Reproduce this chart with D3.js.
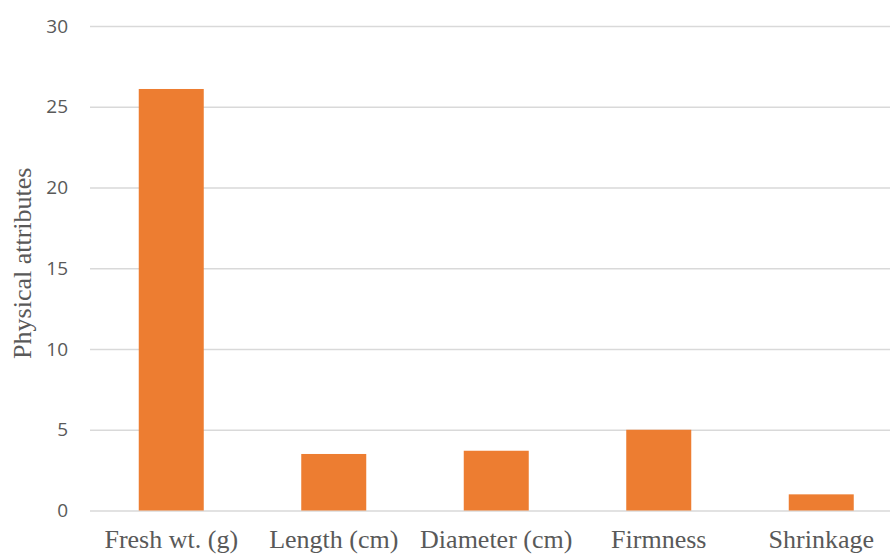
<!DOCTYPE html>
<html>
<head>
<meta charset="utf-8">
<script src="https://cdn.jsdelivr.net/npm/d3@7"></script>
<style>
  html, body { margin: 0; padding: 0; background: #fff; }
  svg { display: block; }
</style>
</head>
<body>
<svg id="chart" width="890" height="554"></svg>
<script>
// Physical attributes of the fruit
const categories = ["Fresh wt. (g)", "Length (cm)", "Diameter (cm)", "Firmness", "Shrinkage"];
const values = [26.1, 3.5, 3.7, 5.0, 1.0];
const yTicks = [0, 5, 10, 15, 20, 25, 30];
const yTitle = "Physical attributes";

const svg = d3.select("#chart");
const W = 890, H = 554;
const margin = { left: 90, right: -12.5, top: 26, bottom: 43.5 };

const x = d3.scaleBand()
  .domain(categories)
  .range([margin.left, W - margin.right])
  .paddingInner(0.6)
  .paddingOuter(0.3);

const y = d3.scaleLinear()
  .domain([0, 30])
  .range([H - margin.bottom, margin.top]);

// horizontal gridlines with value labels
const yAxis = d3.axisLeft(y)
  .tickValues(yTicks)
  .tickSize(-(W - margin.left))
  .tickPadding(22)
  .tickFormat(d3.format("d"));

const gy = svg.append("g")
  .attr("transform", `translate(${margin.left},0)`)
  .call(yAxis);
gy.select(".domain").remove();
gy.selectAll(".tick line")
  .attr("stroke", "#d9d9d9")
  .attr("stroke-width", 1.3);
gy.selectAll(".tick text")
  .attr("fill", "#595959")
  .style("font-family", "'Open Sans', 'Liberation Sans', sans-serif")
  .style("font-size", "19px");

// bars
svg.append("g")
  .selectAll("rect")
  .data(values)
  .join("rect")
  .attr("x", (d, i) => x(categories[i]))
  .attr("width", x.bandwidth())
  .attr("y", d => y(d))
  .attr("height", d => y(0) - y(d))
  .attr("fill", "#ed7d31");

// category labels
const xAxis = d3.axisBottom(x).tickSize(0).tickPadding(19);
const gx = svg.append("g")
  .attr("transform", `translate(0,${y(0)})`)
  .call(xAxis);
gx.select(".domain").remove();
gx.selectAll(".tick text")
  .attr("fill", "#595959")
  .style("font-family", "'Liberation Serif', 'Times New Roman', serif")
  .style("font-size", "26px");

// y-axis title
svg.append("text")
  .attr("transform", `translate(31,${(y(0) + y(30)) / 2 - 5}) rotate(-90)`)
  .attr("text-anchor", "middle")
  .attr("fill", "#595959")
  .style("font-family", "'Liberation Serif', 'Times New Roman', serif")
  .style("font-size", "26px")
  .text(yTitle);
</script>
</body>
</html>
